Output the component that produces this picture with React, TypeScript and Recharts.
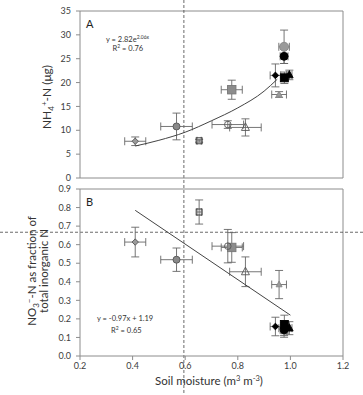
import React from "react";
import {
  ScatterChart,
  Scatter,
  XAxis,
  YAxis,
  ErrorBar,
  ReferenceLine,
} from "recharts";

// sites, in the order
const sites = [
  "s1", "s2", "s3", "s4", "s5", "s6",
  "s7", "s8", "s9", "s10", "s11", "s12",
];
const moisture = [0.41, 0.567, 0.653, 0.777, 0.762, 0.829, 0.957, 0.943, 0.976, 0.976, 0.977, 0.996];
const moistureErr = [0.04, 0.06, 0.008, 0.04, 0.06, 0.06, 0.028, 0.02, 0.02, 0.015, 0.01, 0.01];
const nh4 = [7.7, 10.8, 7.8, 18.5, 11.2, 10.6, 17.5, 21.5, 27.5, 25.5, 21.0, 21.6];
const nh4Err = [0.9, 2.8, 0.3, 2.0, 0.8, 1.8, 0.6, 2.4, 3.5, 1.5, 1.2, 1.0];
const no3Frac = [0.614, 0.519, 0.776, 0.585, 0.592, 0.454, 0.385, 0.159, 0.15, 0.141, 0.17, 0.15];
const no3FracErr = [0.08, 0.063, 0.065, 0.08, 0.09, 0.08, 0.076, 0.05, 0.04, 0.04, 0.05, 0.035];

// trend lines
const fitAX = [0.41, 0.5, 0.6, 0.7, 0.8, 0.9, 0.95];
const fitAY = [6.7, 7.9, 9.6, 12.0, 14.7, 18.2, 20.7];
const fitBX = [0.41, 1.0];
const fitBY = [0.785, 0.22];

const xTicks = [0.2, 0.4, 0.6, 0.8, 1.0, 1.2];
const yTicksA = [0, 5, 10, 15, 20, 25, 30, 35];
const yTicksB = [0, 0.1, 0.2, 0.3, 0.4, 0.5, 0.6, 0.7, 0.8, 0.9];
const dryLimit = 0.595;
const fracLimit = 0.667;

const GRAY = "#8c8c8c";
const DARK = "#555";
const FONT = "Lato, 'Open Sans', sans-serif";

type Mk = { kind: "circle" | "square" | "triangle" | "diamond"; fill: string; stroke: string; size: number };
const markers: Record<string, Mk> = {
  s1: { kind: "diamond", fill: "#9a9a9a", stroke: DARK, size: 3.2 },
  s2: { kind: "circle", fill: "#8a8a8a", stroke: DARK, size: 3.5 },
  s3: { kind: "square", fill: "none", stroke: "#333", size: 3 },
  s4: { kind: "square", fill: "#8c8c8c", stroke: "#777", size: 4.2 },
  s5: { kind: "circle", fill: "none", stroke: DARK, size: 3.3 },
  s6: { kind: "triangle", fill: "none", stroke: DARK, size: 4 },
  s7: { kind: "triangle", fill: "#9a9a9a", stroke: "#888", size: 3 },
  s8: { kind: "diamond", fill: "#000", stroke: "#000", size: 3.3 },
  s9: { kind: "circle", fill: "#999", stroke: "#888", size: 4.5 },
  s10: { kind: "circle", fill: "#000", stroke: "#000", size: 4 },
  s11: { kind: "square", fill: "#000", stroke: "#000", size: 4 },
  s12: { kind: "triangle", fill: "#000", stroke: "#000", size: 3.8 },
};

const dataA = sites.map((s, i) => ({ site: s, x: moisture[i], y: nh4[i], xErr: moistureErr[i], yErr: nh4Err[i] }));
const dataB = sites.map((s, i) => ({ site: s, x: moisture[i], y: no3Frac[i], xErr: moistureErr[i], yErr: no3FracErr[i] }));
const fitA = fitAX.map((x, i) => ({ x, y: fitAY[i] }));
const fitB = fitBX.map((x, i) => ({ x, y: fitBY[i] }));

const Marker = (props: any) => {
  const { cx, cy, payload } = props;
  const m = markers[payload.site];
  if (!m || cx == null) return <g />;
  const s = m.size;
  const common = { fill: m.fill, stroke: m.stroke, strokeWidth: 0.9 };
  if (m.kind === "circle") return <circle cx={cx} cy={cy} r={s} {...common} />;
  if (m.kind === "square") return <rect x={cx - s} y={cy - s} width={2 * s} height={2 * s} {...common} />;
  if (m.kind === "triangle")
    return <polygon points={`${cx},${cy - s * 1.15} ${cx + s},${cy + s * 0.75} ${cx - s},${cy + s * 0.75}`} {...common} />;
  return <polygon points={`${cx},${cy - s} ${cx + s},${cy} ${cx},${cy + s} ${cx - s},${cy}`} {...common} />;
};

const noDot = () => <g />;

const tickStyle = { fontSize: 9, fill: "#404040", fontFamily: FONT };

export default function App() {
  return (
    <div style={{ position: "absolute", left: 0, top: 0, width: 363, height: 395, background: "#fff", fontFamily: FONT }}>
      <style>{`.recharts-surface{overflow:visible}`}</style>

      <div style={{ position: "absolute", left: 0, top: 0 }}>
        <ScatterChart width={363} height={185} margin={{ top: 11, right: 20, left: 30, bottom: 0 }}>
          <XAxis
            type="number"
            dataKey="x"
            domain={[0.2, 1.2]}
            ticks={xTicks}
            tick={false}
            height={7}
            tickSize={4}
            stroke={GRAY}
          />
          <YAxis
            type="number"
            dataKey="y"
            domain={[0, 35]}
            ticks={yTicksA}
            width={50}
            tickSize={4}
            tickMargin={5}
            tick={tickStyle}
            stroke={GRAY}
          />
          <ReferenceLine y={35} stroke={GRAY} />
          <ReferenceLine x={1.2} stroke={GRAY} />
          <ReferenceLine
            x={dryLimit}
            shape={(p: any) => (
              <line x1={p.x1} x2={p.x2} y1={-5} y2={400} stroke="#444" strokeWidth={0.8} strokeDasharray="3 2" />
            )}
          />
          <Scatter data={fitA} line={{ stroke: "#444", strokeWidth: 1 }} lineJointType="monotoneX" shape={noDot} isAnimationActive={false} />
          <Scatter data={dataA} shape={Marker} isAnimationActive={false}>
            <ErrorBar dataKey="xErr" direction="x" width={4} stroke="#666" strokeWidth={0.9} />
            <ErrorBar dataKey="yErr" direction="y" width={4} stroke="#666" strokeWidth={0.9} />
          </Scatter>
        </ScatterChart>
      </div>

      <div style={{ position: "absolute", left: 0, top: 180 }}>
        <ScatterChart width={363} height={215} margin={{ top: 9, right: 20, left: 30, bottom: 0 }}>
          <XAxis
            type="number"
            dataKey="x"
            domain={[0.2, 1.2]}
            ticks={xTicks}
            tickFormatter={(v: number) => v.toFixed(1)}
            height={39}
            tickSize={4}
            tickMargin={3}
            tick={tickStyle}
            stroke={GRAY}
          />
          <YAxis
            type="number"
            dataKey="y"
            domain={[0, 0.9]}
            ticks={yTicksB}
            tickFormatter={(v: number) => v.toFixed(1)}
            width={50}
            tickSize={4}
            tickMargin={5}
            tick={tickStyle}
            stroke={GRAY}
          />
          <ReferenceLine y={0.9} stroke={GRAY} />
          <ReferenceLine x={1.2} stroke={GRAY} />
          <ReferenceLine
            y={fracLimit}
            shape={(p: any) => (
              <line x1={-5} x2={370} y1={p.y1} y2={p.y2} stroke="#444" strokeWidth={0.8} strokeDasharray="3 2" />
            )}
          />
          <Scatter data={fitB} line={{ stroke: "#444", strokeWidth: 1 }} shape={noDot} isAnimationActive={false} />
          <Scatter data={dataB} shape={Marker} isAnimationActive={false}>
            <ErrorBar dataKey="xErr" direction="x" width={4} stroke="#666" strokeWidth={0.9} />
            <ErrorBar dataKey="yErr" direction="y" width={4} stroke="#666" strokeWidth={0.9} />
          </Scatter>
        </ScatterChart>
      </div>

      {/* titles and equations */}
      <svg width={363} height={395} style={{ position: "absolute", left: 0, top: 0, pointerEvents: "none" }} fontFamily={FONT}>
        <text x={86} y={28} fontSize={11} fill="#222">A</text>
        <text x={106} y={41.5} fontSize={7.5} fill="#333">
          y = 2.82e<tspan fontSize={5} dy={-3}>2.06x</tspan>
        </text>
        <text x={112.5} y={51} fontSize={7.5} fill="#333">
          R<tspan fontSize={5} dy={-3}>2</tspan><tspan dy={3}> = 0.76</tspan>
        </text>
        <text x={86} y={206} fontSize={11} fill="#222">B</text>
        <text x={97} y={320.5} fontSize={7.5} fill="#333">y = -0.97x + 1.19</text>
        <text x={111} y={333} fontSize={7.5} fill="#333">
          R<tspan fontSize={5} dy={-3}>2</tspan><tspan dy={3}> = 0.65</tspan>
        </text>

        <text transform="translate(51,97) rotate(-90)" textAnchor="middle" fontSize={12} fill="#333">
          NH<tspan fontSize={8} dy={3}>4</tspan><tspan fontSize={8} dy={-7}>+</tspan><tspan dy={4}>-N (μg)</tspan>
        </text>
        <text transform="translate(35.5,271) rotate(-90)" textAnchor="middle" fontSize={11.5} fill="#333">
          NO<tspan fontSize={8} dy={3}>3</tspan><tspan fontSize={8} dy={-7}>−</tspan><tspan dy={4}>-N as fraction of</tspan>
        </text>
        <text transform="translate(47.5,271) rotate(-90)" textAnchor="middle" fontSize={11.5} fill="#333">
          total inorganic N
        </text>
        <text x={209} y={385} textAnchor="middle" fontSize={11.5} fill="#333">
          Soil moisture (m<tspan fontSize={7.5} dy={-4}>3</tspan><tspan dy={4}> m</tspan><tspan fontSize={7.5} dy={-4}>-3</tspan><tspan dy={4}>)</tspan>
        </text>
      </svg>
    </div>
  );
}
